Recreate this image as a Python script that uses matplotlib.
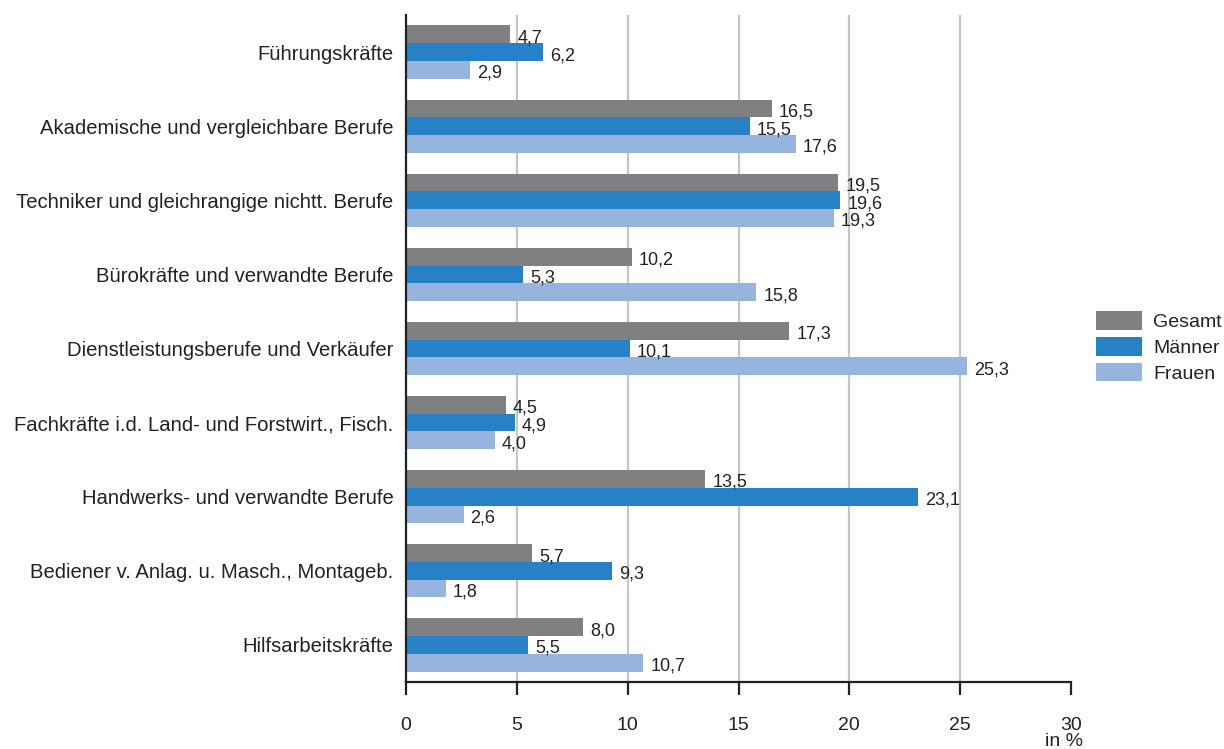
import matplotlib.pyplot as plt
import numpy as np

plt.rcParams['font.family'] = ['Liberation Sans', 'DejaVu Sans']

# Berufsgruppen und Anteile in %
kategorien = [
    'Führungskräfte',
    'Akademische und vergleichbare Berufe',
    'Techniker und gleichrangige nichtt. Berufe',
    'Bürokräfte und verwandte Berufe',
    'Dienstleistungsberufe und Verkäufer',
    'Fachkräfte i.d. Land- und Forstwirt., Fisch.',
    'Handwerks- und verwandte Berufe',
    'Bediener v. Anlag. u. Masch., Montageb.',
    'Hilfsarbeitskräfte',
]
gesamt = [4.7, 16.5, 19.5, 10.2, 17.3, 4.5, 13.5, 5.7, 8.0]
maenner = [6.2, 15.5, 19.6, 5.3, 10.1, 4.9, 23.1, 9.3, 5.5]
frauen = [2.9, 17.6, 19.3, 15.8, 25.3, 4.0, 2.6, 1.8, 10.7]
x_ticks = [0, 5, 10, 15, 20, 25, 30]

serien = [
    ('Gesamt', gesamt, '#808083'),
    ('Männer', maenner, '#2681c6'),
    ('Frauen', frauen, '#96b5de'),
]

textfarbe = '#222222'

fig = plt.figure(figsize=(12.24, 7.49), dpi=100)
ax = fig.add_axes([406 / 1224, 1 - 682 / 749, 665 / 1224, 667 / 749])

y = np.arange(len(kategorien))
h = 0.239

for k, (name, werte, farbe) in enumerate(serien):
    pos = y + (k - 1) * h
    ax.barh(pos, werte, height=h, color=farbe, label=name, zorder=2)
    for p, v in zip(pos, werte):
        ax.annotate(f'{v:.1f}'.replace('.', ','), xy=(v, p), xytext=(5, -2.5),
                    textcoords='offset points', ha='left', va='center',
                    fontsize=13, color=textfarbe, zorder=3)

ax.set_xlim(0, 30)
ax.set_ylim(8.5, -0.5)
ax.set_xticks(x_ticks)
ax.set_xticklabels([str(t) for t in x_ticks], fontsize=14, color=textfarbe)
ax.set_yticks(y)
ax.set_yticklabels(kategorien, fontsize=14.6, color=textfarbe)

# senkrechte Hilfslinien
for t in x_ticks[1:-1]:
    ax.axvline(t, color='#c6c6c6', lw=1.6, zorder=1)

for s in ['top', 'right']:
    ax.spines[s].set_visible(False)
for s in ['left', 'bottom']:
    ax.spines[s].set_linewidth(1.6)
    ax.spines[s].set_color(textfarbe)
ax.tick_params(axis='x', direction='out', length=9.5, width=1.6,
               pad=16, color=textfarbe)
ax.tick_params(axis='y', length=0, pad=9)

ax.annotate('in %', xy=(30, 0), xycoords=('data', 'axes fraction'),
            xytext=(8.5, -42.5), textcoords='offset points',
            ha='right', va='center', fontsize=14, color=textfarbe)

leg = fig.legend(loc='center left', bbox_to_anchor=(1096 / 1224, 1 - 347 / 749),
                 frameon=False, fontsize=14, handlelength=2.37, handleheight=1.08,
                 labelspacing=0.3, handletextpad=0.57, borderpad=0,
                 borderaxespad=0)
for t in leg.get_texts():
    t.set_color(textfarbe)

fig.savefig('out.png', dpi=100)
